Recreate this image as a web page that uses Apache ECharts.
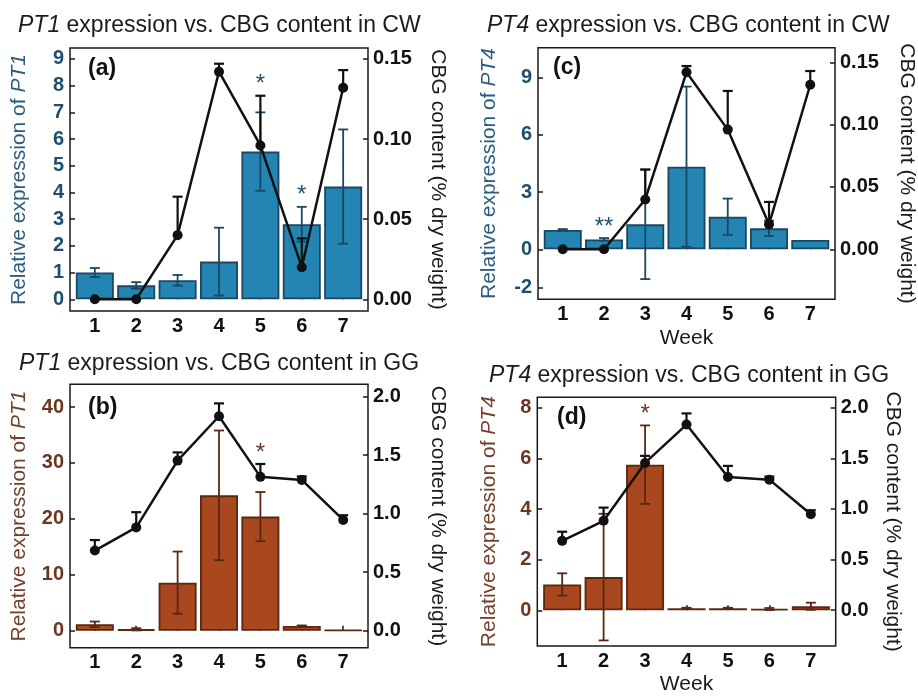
<!DOCTYPE html>
<html>
<head>
<meta charset="utf-8">
<script src="https://cdn.jsdelivr.net/npm/echarts@6/dist/echarts.min.js"></script>
<style>
  html, body { margin: 0; padding: 0; background: #fff; }
  #chart { width: 918px; height: 696px; }
</style>
</head>
<body>
<div id="chart"></div>
<script>
// weeks and tick labels
const weeks = [1, 2, 3, 4, 5, 6, 7]
const ticksPT1CW = [0, 1, 2, 3, 4, 5, 6, 7, 8, 9]
const ticksPT4CW = [-2, 0, 3, 6, 9]
const ticksPT1GG = [0, 10, 20, 30, 40]
const ticksPT4GG = [0, 2, 4, 6, 8]
const ticksCbgCW = [0, 0.05, 0.10, 0.15]
const ticksCbgGG = [0, 0.5, 1.0, 1.5, 2.0]

// relative expression (bars) with SD
const pt1CW = [1.0, 0.52, 0.71, 1.41, 5.53, 2.81, 4.22]
const pt1CWErr = [0.17, 0.12, 0.2, 1.27, 1.47, 0.65, 2.14]
const pt4CW = [1.01, 0.52, 1.31, 4.33, 1.71, 1.10, 0.49]
const pt4CWErr = [0.05, 0.07, 2.87, 4.2, 0.95, 0.4, 0]
const pt1GG = [1.14, 0.25, 8.59, 24.2, 20.4, 0.84, 0.1]
const pt1GGErr = [0.5, 0.2, 5.56, 11.6, 4.4, 0.1, 0]
const pt4GG = [1.02, 1.31, 5.75, 0.08, 0.08, 0.05, 0.16]
const pt4GGErr = [0.44, 2.5, 1.55, 0.02, 0.02, 0.04, 0.14]

// CBG content (line) with SD
const cbgCW = [0, 0, 0.040, 0.142, 0.096, 0.020, 0.132]
const cbgCWErr = [0, 0, 0.024, 0.005, 0.031, 0.018, 0.011]
const cbgGG = [0.685, 0.883, 1.454, 1.833, 1.315, 1.289, 0.947]
const cbgGGErr = [0.09, 0.13, 0.07, 0.11, 0.11, 0.03, 0.04]

// significance marks
const sigPT1CW = ['', '', '', '', '*', '*', '']
const sigPT4CW = ['', '**', '', '', '', '', '']
const sigPT1GG = ['', '', '', '', '*', '', '']
const sigPT4GG = ['', '', '*', '', '', '', '']

const FONT = 'Liberation Sans, Arial, sans-serif'
const BLUE = { fill: '#2585b2', border: '#1a4763', text: '#1f4e6e', name: '#2a5c80' }
const BROWN = { fill: '#a9471f', border: '#5a2812', text: '#6b3620', name: '#74402a' }

const panels = [
  {
    grid: { left: 70, top: 48, width: 298, height: 263 },
    gene: 'PT1', site: 'CW', tag: '(a)', tagPos: [83, 52], titlePos: [13, 9],
    bars: pt1CW, barErr: pt1CWErr, line: cbgCW, lineErr: cbgCWErr, sig: sigPT1CW,
    lRange: [-0.44, 9.41], rRange: [-0.00733, 0.1568], lTicks: ticksPT1CW, rTicks: ticksCbgCW, rDec: 2,
    col: BLUE, lGap: 40, rGap: 59, week: false,
  },
  {
    grid: { left: 538, top: 47.7, width: 297.7, height: 251.6 },
    gene: 'PT4', site: 'CW', tag: '(c)', tagPos: [548, 51], titlePos: [482, 9],
    bars: pt4CW, barErr: pt4CWErr, line: cbgCW, lineErr: cbgCWErr, sig: sigPT4CW,
    lRange: [-2.62, 10.57], rRange: [-0.0401, 0.1617], lTicks: ticksPT4CW, rTicks: ticksCbgCW, rDec: 2,
    col: BLUE, lGap: 38, rGap: 61, week: true,
  },
  {
    grid: { left: 70, top: 384.3, width: 298, height: 263.4 },
    gene: 'PT1', site: 'GG', tag: '(b)', tagPos: [83, 391], titlePos: [14, 347],
    bars: pt1GG, barErr: pt1GGErr, line: cbgGG, lineErr: cbgGGErr, sig: sigPT1GG,
    lRange: [-3.04, 44.06], rRange: [-0.145, 2.106], lTicks: ticksPT1GG, rTicks: ticksCbgGG, rDec: 1,
    col: BROWN, lGap: 40, rGap: 59, week: false,
  },
  {
    grid: { left: 537.3, top: 397.3, width: 298.4, height: 250.4 },
    gene: 'PT4', site: 'GG', tag: '(d)', tagPos: [552, 401], titlePos: [484, 359],
    bars: pt4GG, barErr: pt4GGErr, line: cbgGG, lineErr: cbgGGErr, sig: sigPT4GG,
    lRange: [-1.41, 8.41], rRange: [-0.353, 2.102], lTicks: ticksPT4GG, rTicks: ticksCbgGG, rDec: 1,
    col: BROWN, lGap: 38, rGap: 47, week: true,
  },
]

function errRender(color, width, upOnly) {
  return function (params, api) {
    const x = api.value(0), y = api.value(1), e = api.value(2)
    if (!e) return
    const top = api.coord([x, y + e])
    const bot = api.coord([x, upOnly ? y : y - e])
    const w = 5
    const style = { stroke: color, lineWidth: width }
    const children = [
      { type: 'line', shape: { x1: top[0], y1: top[1], x2: bot[0], y2: bot[1] }, style },
      { type: 'line', shape: { x1: top[0] - w, y1: top[1], x2: top[0] + w, y2: top[1] }, style },
    ]
    if (!upOnly) {
      children.push({ type: 'line', shape: { x1: bot[0] - w, y1: bot[1], x2: bot[0] + w, y2: bot[1] }, style })
    }
    return { type: 'group', children }
  }
}

const grid = [], xAxis = [], yAxis = [], series = [], title = []

panels.forEach((p, i) => {
  grid.push(Object.assign({ show: true, borderColor: '#1a1a1a', borderWidth: 1.5, containLabel: false }, p.grid))

  xAxis.push({
    type: 'value', gridIndex: i, min: 0.4, max: 7.6,
    name: p.week ? 'Week' : '', nameLocation: 'middle', nameGap: 28,
    nameTextStyle: { fontFamily: FONT, fontSize: 21, color: '#1a1a1a', verticalAlign: 'top' },
    axisLine: { show: false },
    splitLine: { show: false },
    axisTick: { inside: true, length: 5, customValues: weeks, lineStyle: { color: '#1a1a1a', width: 1.5 } },
    axisLabel: { customValues: weeks, margin: 5, fontFamily: FONT, fontSize: 20, fontWeight: 'bold', color: '#111' },
  })

  yAxis.push({
    type: 'value', gridIndex: i, position: 'left', min: p.lRange[0], max: p.lRange[1],
    name: 'Relative expression of {i|' + p.gene + '}', nameLocation: 'middle', nameGap: p.lGap,
    nameTextStyle: {
      fontFamily: FONT, fontSize: 21, color: p.col.name,
      rich: { i: { fontFamily: FONT, fontSize: 21, fontStyle: 'italic', color: p.col.name } },
    },
    axisLine: { show: false },
    splitLine: { show: false },
    axisTick: { inside: true, length: 5, customValues: p.lTicks, lineStyle: { color: '#1a1a1a', width: 1.5 } },
    axisLabel: { customValues: p.lTicks, margin: 6, fontFamily: FONT, fontSize: 20, fontWeight: 'bold', color: p.col.text },
  })

  yAxis.push({
    type: 'value', gridIndex: i, position: 'right', min: p.rRange[0], max: p.rRange[1],
    name: 'CBG content (% dry weight)', nameLocation: 'middle', nameGap: p.rGap, nameRotate: -90,
    nameTextStyle: { fontFamily: FONT, fontSize: 21, color: '#1a1a1a' },
    axisLine: { show: false },
    splitLine: { show: false },
    axisTick: { inside: true, length: 5, customValues: p.rTicks, lineStyle: { color: '#1a1a1a', width: 1.5 } },
    axisLabel: {
      customValues: p.rTicks, margin: 5, fontFamily: FONT, fontSize: 20, fontWeight: 'bold', color: '#111',
      formatter: v => Number(v).toFixed(p.rDec),
    },
  })

  const lIdx = i * 2, rIdx = i * 2 + 1

  series.push({
    type: 'bar', xAxisIndex: i, yAxisIndex: lIdx, barWidth: 38, z: 2,
    itemStyle: { color: p.col.fill, borderColor: p.col.border, borderWidth: 1.8 },
    data: weeks.map((w, k) => [w, p.bars[k]]),
  })
  series.push({
    type: 'custom', xAxisIndex: i, yAxisIndex: lIdx, z: 3,
    renderItem: errRender(p.col.border, 1.8, false),
    data: weeks.map((w, k) => [w, p.bars[k], p.barErr[k]]),
  })
  series.push({
    type: 'line', xAxisIndex: i, yAxisIndex: rIdx, z: 4,
    symbol: 'circle', symbolSize: 10,
    lineStyle: { color: '#111', width: 2.5 }, itemStyle: { color: '#111' },
    data: weeks.map((w, k) => [w, p.line[k]]),
  })
  series.push({
    type: 'custom', xAxisIndex: i, yAxisIndex: rIdx, z: 5,
    renderItem: errRender('#111', 2.2, true),
    data: weeks.map((w, k) => [w, p.line[k], p.lineErr[k]]),
  })

  // asterisks sit above the higher of the two error bars
  const scale = (p.lRange[1] - p.lRange[0]) / (p.rRange[1] - p.rRange[0])
  const sigBase = weeks.map((w, k) => Math.max(
    p.bars[k] + p.barErr[k],
    p.lRange[0] + (p.line[k] + p.lineErr[k] - p.rRange[0]) * scale
  ))
  series.push({
    type: 'custom', xAxisIndex: i, yAxisIndex: lIdx, z: 6,
    renderItem: function (params, api) {
      const k = params.dataIndex
      if (!p.sig[k]) return
      const pt = api.coord([api.value(0), api.value(1)])
      return {
        type: 'text', x: pt[0], y: pt[1] - 11,
        style: { text: p.sig[k], fill: p.col.text, font: '24px ' + FONT, align: 'center', verticalAlign: 'middle' },
      }
    },
    data: weeks.map((w, k) => [w, sigBase[k]]),
  })

  title.push({
    text: '{i|' + p.gene + '} expression vs. CBG content in ' + p.site,
    left: p.titlePos[0], top: p.titlePos[1],
    textStyle: {
      fontFamily: FONT, fontSize: 23, fontWeight: 'normal', color: '#1a1a1a',
      rich: { i: { fontFamily: FONT, fontSize: 23, fontStyle: 'italic', color: '#1a1a1a' } },
    },
  })
  title.push({
    text: p.tag, left: p.tagPos[0], top: p.tagPos[1],
    textStyle: { fontFamily: FONT, fontSize: 23, fontWeight: 'bold', color: '#111' },
  })
})

const chart = echarts.init(document.getElementById('chart'))
chart.setOption({
  animation: false,
  backgroundColor: '#fff',
  title, grid, xAxis, yAxis, series,
})
</script>
</body>
</html>
